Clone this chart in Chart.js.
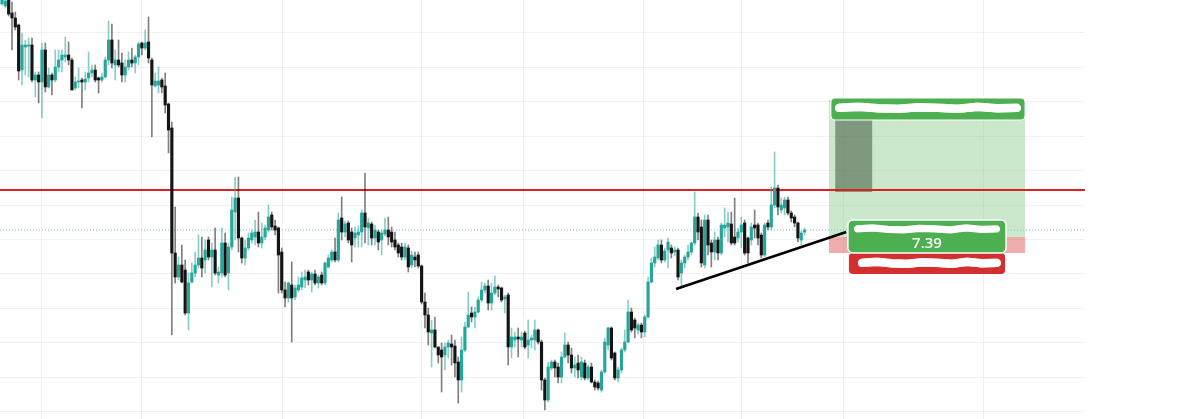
<!DOCTYPE html>
<html>
<head>
<meta charset="utf-8">
<script src="https://cdn.jsdelivr.net/npm/chart.js@4.4.1/dist/chart.umd.min.js"></script>
<style>
  html, body { margin: 0; padding: 0; background: #fff; }
  #wrap { width: 1200px; height: 419px; position: relative; }
</style>
</head>
<body>
<div id="wrap"><canvas id="chart"></canvas></div>
<script>
// candles (one per bar, left to right)
const opens = [
  41.5,41.3,41.9,40.6,40.1,39.4,34.9,37.2,37.3,37.4,
  33.9,34.4,33.7,36.9,33.2,34.4,33.9,35.2,35.9,36.2,
  36.4,35.9,33.1,33.7,33.9,33.7,34.1,34.6,34.9,34.1,
  33.9,34.2,35.9,37.9,35.4,35.9,35.6,34.4,35.2,35.9,
  35.6,36.2,37.6,37.1,37.7,35.9,33.3,33.4,33.9,33.3,
  31.5,29.1,16.6,14.2,15.4,14.9,10.6,13.7,14.6,15.4,
  16.1,15.9,17.9,16.2,16.9,14.4,14.6,17.6,14.6,17.2,
  20.7,22.1,18.1,16.1,17.1,17.9,18.2,18.7,17.6,18.2,
  18.9,20.4,19.3,19.1,16.7,12.9,12.1,13.4,12.2,12.9,
  13.2,13.9,14.7,13.9,14.5,13.6,14.4,13.6,15.2,15.9,
  16.7,15.9,20.1,18.7,19.6,18.7,18.1,18.4,18.7,20.6,
  19.1,19.5,18.1,18.7,17.9,18.5,18.9,18.7,17.9,17.4,
  17.2,16.2,17.1,15.4,16.2,16.4,15.3,11.7,10.4,8.6,
  8.9,7.2,6.9,6.4,7.2,7.5,7.3,5.7,3.9,6.9,
  9.2,10.6,10.2,10.7,11.9,12.9,13.3,11.6,12.6,13.2,
  13.1,12.0,12.4,7.2,7.9,8.2,7.9,8.6,7.4,7.9,
  7.9,8.9,7.7,3.9,1.9,5.1,5.7,5.2,4.2,6.2,
  7.4,6.4,5.1,5.6,4.2,5.6,4.1,5.2,3.7,3.6,
  2.9,4.7,7.4,9.1,6.6,4.1,4.9,6.9,7.7,10.7,
  9.9,8.9,9.4,8.7,10.2,13.7,15.6,16.1,17.4,15.9,
  16.9,17.1,16.7,16.9,14.6,15.6,16.2,16.7,17.6,20.2,
  19.2,15.4,19.9,17.6,16.7,17.9,16.6,19.1,19.2,19.5,
  18.2,18.1,18.7,19.6,18.1,17.9,19.4,19.4,18.4,16.4,
  19.6,19.2,21.4,23.1,20.9,21.1,21.9,20.6,20.2,19.6,
  17.9,18.7
];
const highs = [
  42.4,42.2,42.1,41.7,40.7,39.5,38.6,37.9,38.1,38.1,
  34.7,34.7,37.6,37.6,35.1,34.6,36.9,36.9,36.9,38.2,
  37.7,36.1,34.2,35.1,34.1,34.7,36.7,35.4,35.4,34.2,
  34.6,36.2,39.8,39.5,36.9,37.9,36.6,35.9,36.7,37.1,
  36.4,37.7,37.7,38.9,40.2,36.1,34.6,35.2,34.1,34.6,
  31.6,29.7,21.2,16.2,17.4,15.9,14.6,15.6,16.7,18.4,
  18.2,17.9,18.2,17.6,19.1,15.2,19.1,18.6,17.6,22.2,
  24.2,24.2,18.2,17.9,18.6,18.9,19.9,20.7,19.6,19.4,
  21.4,20.7,19.9,19.2,17.1,13.7,13.7,15.7,13.4,14.2,
  14.7,14.9,14.9,14.7,14.9,14.4,14.7,15.7,16.4,16.9,
  18.1,20.6,22.2,19.8,19.8,19.1,19.2,19.3,20.9,24.6,
  20.1,19.7,19.4,18.9,18.9,20.1,20.2,19.2,18.7,17.6,
  17.6,17.6,17.4,16.8,16.7,16.7,15.4,12.6,11.1,9.9,
  10.2,7.2,7.6,7.6,7.9,8.4,7.9,6.2,8.2,9.7,
  12.7,11.2,11.2,12.2,13.7,13.6,13.9,13.6,14.3,13.4,
  13.2,12.4,12.6,9.1,8.7,9.1,8.7,8.8,9.9,8.4,
  9.9,9.0,7.9,4.1,5.7,5.9,5.9,5.6,6.7,8.6,
  7.7,7.1,6.2,6.4,6.2,5.9,5.4,5.6,3.9,3.8,
  4.9,8.1,9.2,9.2,6.7,5.2,7.1,8.9,11.9,11.1,
  10.1,9.6,9.6,10.4,14.2,16.1,17.2,17.9,17.9,17.1,
  18.1,17.4,17.2,17.1,15.9,16.4,17.4,17.7,22.7,20.6,
  19.9,20.4,20.4,17.9,18.7,18.2,19.6,21.1,20.7,20.7,
  22.1,19.1,20.2,19.9,18.2,19.6,20.9,19.6,18.6,19.6,
  19.9,23.2,26.7,23.4,22.1,22.2,22.2,20.8,20.4,19.7,
  18.8,19.1
];
const lows = [
  41.4,41.1,40.3,36.9,38.9,33.9,33.4,34.4,34.2,33.7,
  32.2,31.6,30.1,32.7,33.1,32.4,33.7,34.7,34.7,35.7,
  35.4,32.9,32.9,33.1,31.1,32.9,33.7,34.2,33.7,32.6,
  33.7,34.1,35.4,35.1,33.9,35.2,33.7,33.7,34.9,35.2,
  34.6,35.4,36.4,36.9,35.6,28.2,33.2,32.6,32.6,30.6,
  26.6,8.4,13.6,13.9,13.6,10.4,8.9,13.6,14.2,15.1,
  14.2,14.6,15.9,13.2,14.4,13.6,14.2,14.2,12.9,16.9,
  17.9,16.7,15.6,15.4,16.9,17.6,17.4,17.2,17.1,17.9,
  18.7,18.9,18.4,12.6,12.6,11.2,11.7,7.7,11.9,12.7,
  12.9,13.1,13.4,12.7,13.4,13.1,13.4,13.4,15.1,15.7,
  15.7,15.7,17.9,18.2,17.6,15.7,17.2,17.2,17.2,17.6,
  17.4,17.4,17.4,16.9,16.4,18.3,17.4,17.2,16.9,16.2,
  15.9,15.9,14.7,15.1,15.2,15.1,11.5,9.1,7.4,5.2,
  7.1,5.6,2.7,4.9,6.1,5.4,4.2,1.6,2.7,6.7,
  9.1,9.7,9.1,10.6,11.7,12.6,10.9,10.9,12.4,12.2,
  11.7,10.6,5.4,6.1,7.2,6.2,7.2,7.0,6.1,7.1,
  6.9,7.5,2.9,0.9,1.7,4.9,4.2,3.6,3.6,6.1,
  5.6,4.6,4.2,4.1,3.9,3.9,3.9,3.6,2.9,2.9,
  2.7,4.6,6.9,5.9,3.9,3.7,4.6,6.7,7.6,8.7,
  8.1,8.5,8.1,8.2,10.1,13.6,15.2,15.9,15.6,15.7,
  15.1,16.1,16.3,13.9,13.1,15.1,15.9,16.4,17.4,17.9,
  15.2,15.1,16.4,15.2,15.9,15.9,16.4,18.2,17.7,17.4,
  17.4,17.7,17.1,16.4,15.6,17.4,18.1,17.4,16.1,16.2,
  18.9,18.9,21.1,20.4,20.6,20.4,20.4,19.7,19.2,17.7,
  17.4,18.4
];
const closes = [
  41.9,41.8,40.5,40.1,39.2,34.8,37.4,37.4,37.4,33.9,
  34.4,33.7,36.9,33.2,34.4,33.9,35.2,35.9,36.4,36.4,
  35.9,32.9,33.7,33.8,33.7,34.0,34.6,34.9,33.9,33.9,
  34.2,35.9,37.9,35.6,35.9,35.4,34.4,35.2,35.9,35.6,
  36.2,37.5,37.1,37.6,36.1,33.4,33.8,33.8,33.2,31.4,
  28.9,16.6,14.2,15.4,13.7,10.6,13.6,14.6,15.4,16.1,
  15.1,16.9,16.2,16.9,14.6,14.7,17.6,14.4,17.2,20.9,
  22.1,18.1,16.1,17.1,18.1,18.6,18.7,17.6,18.2,19.1,
  20.2,19.2,18.9,16.4,12.9,12.1,13.6,12.1,13.1,13.4,
  14.1,14.2,13.9,14.5,13.6,14.2,13.6,15.6,16.1,16.7,
  15.9,19.9,18.7,19.5,17.9,17.4,18.6,18.7,20.6,19.2,
  19.6,18.1,18.9,17.7,18.6,18.9,18.2,17.7,17.2,16.6,
  16.2,17.2,15.2,16.4,15.9,15.3,11.7,10.4,8.7,8.9,
  7.2,6.4,6.2,7.2,7.6,7.2,5.6,3.9,6.9,9.2,
  10.4,10.2,10.7,11.9,12.9,13.3,11.6,12.6,13.2,13.0,
  11.9,12.2,7.2,8.2,8.2,8.0,8.2,7.2,7.9,8.1,
  8.9,7.7,3.9,1.9,5.2,5.7,5.1,4.2,6.2,7.4,
  6.4,5.1,5.4,4.9,5.7,4.1,5.2,3.7,3.2,3.1,
  4.7,7.7,9.1,6.1,4.1,4.9,6.9,7.7,10.7,8.9,
  9.1,9.4,8.7,10.2,13.7,15.6,16.2,17.4,15.9,16.8,
  17.7,16.6,16.9,14.2,15.6,16.2,16.7,17.6,20.2,18.7,
  15.6,19.9,17.4,16.7,17.9,16.6,19.4,19.4,19.6,17.6,
  17.6,18.7,19.4,16.6,16.6,19.2,19.1,18.1,16.4,19.4,
  19.2,21.4,23.1,21.2,21.4,21.9,20.6,20.1,19.6,18.1,
  18.6,18.9
];

// grid positions (bar index / price)
const xGridTicks = [12.0, 42.0, 84.1, 126.1, 156.5, 192.5, 222.2, 252.6, 294.6];
const yGridTicks = [0.76, 4.2, 7.64, 11.08, 14.52, 17.96, 21.4, 24.84, 28.28, 31.72, 35.16, 38.6];

// drawings
const resistance = 22.9;
const lastPrice = 18.9;
const trendX = [202.4, 253.5];
const trendY = [13.0, 18.7];
const zoneX = [248.3, 307.2];
const targetPrice = 31.9;
const entryPrice = 18.2;
const stopPrice = 16.6;
const heldX = [250.2, 261.3];
const heldY = [30.1, 22.7];
const ratioText = "7.39";

const UP = '#26a69a', DOWN = '#141414';
const idx = opens.map((_, i) => i);
const isUp = i => closes[i] >= opens[i];

// white marker strokes that hide the label text
function scribble(ctx, x0, x1, yc, w) {
  const wob = [0, -1, 0.5, 1, -0.5, 0, 1, -1, 0.5, 0];
  const pass = (dy, lw) => {
    ctx.beginPath();
    wob.forEach((d, k) => {
      const px = x0 + (x1 - x0) * k / (wob.length - 1);
      if (k === 0) ctx.moveTo(px, yc + d + dy); else ctx.lineTo(px, yc + d + dy);
    });
    ctx.lineWidth = lw;
    ctx.stroke();
  };
  ctx.strokeStyle = '#fff';
  ctx.lineCap = 'round';
  ctx.lineJoin = 'round';
  pass(0, w);
  pass(-2, w * 0.6);
  pass(2, w * 0.5);
}

const tradeBox = {
  id: 'tradeBox',
  beforeDatasetsDraw(chart) {
    const { ctx, scales: { x, y } } = chart;
    const l = x.getPixelForValue(zoneX[0]), r = x.getPixelForValue(zoneX[1]);
    const t = y.getPixelForValue(targetPrice), e = y.getPixelForValue(entryPrice), s = y.getPixelForValue(stopPrice);
    ctx.save();
    ctx.fillStyle = 'rgba(76,175,80,0.29)';
    ctx.fillRect(l, t, r - l, e - t);
    ctx.fillStyle = 'rgba(220,60,60,0.42)';
    ctx.fillRect(l, e, r - l, s - e);
    // bars held in trade
    const hl = x.getPixelForValue(heldX[0]), hr = x.getPixelForValue(heldX[1]);
    const ht = y.getPixelForValue(heldY[0]), hb = y.getPixelForValue(heldY[1]);
    ctx.fillStyle = 'rgba(80,105,80,0.62)';
    ctx.fillRect(hl, ht, hr - hl, hb - ht);
    ctx.restore();
  },
  afterDatasetsDraw(chart) {
    const { ctx, scales: { x, y } } = chart;
    const l = x.getPixelForValue(zoneX[0]), r = x.getPixelForValue(zoneX[1]);
    const t = y.getPixelForValue(targetPrice), e = y.getPixelForValue(entryPrice), s = y.getPixelForValue(stopPrice);
    ctx.save();
    // target label
    ctx.beginPath();
    ctx.roundRect(l + 2, t - 2, r - l - 2, 22, 4);
    ctx.fillStyle = '#4caf50';
    ctx.fill();
    ctx.strokeStyle = '#fff';
    ctx.lineWidth = 1;
    ctx.stroke();
    scribble(ctx, l + 10, r - 8, t + 8, 8);
    // stop label
    ctx.beginPath();
    ctx.roundRect(l + 20, s, r - l - 40, 21, 4);
    ctx.fillStyle = '#d32f2f';
    ctx.fill();
    scribble(ctx, l + 33, r - 28, s + 10, 8);
    // entry label
    ctx.beginPath();
    ctx.roundRect(l + 19, e - 17, r - l - 38, s - e + 17, 5);
    ctx.fillStyle = '#4caf50';
    ctx.fill();
    ctx.strokeStyle = '#fff';
    ctx.lineWidth = 1.5;
    ctx.stroke();
    scribble(ctx, l + 28, r - 28, e - 8, 6);
    ctx.fillStyle = '#fff';
    ctx.font = '600 15px "Open Sans"';
    ctx.textAlign = 'center';
    ctx.textBaseline = 'middle';
    ctx.fillText(ratioText, (l + r) / 2, s - 9);
    ctx.restore();
  }
};

new Chart(document.getElementById('chart'), {
  type: 'bar',
  data: {
    datasets: [
      {
        type: 'line',
        data: trendX.map((v, k) => ({ x: v, y: trendY[k] })),
        borderColor: '#000',
        borderWidth: 2.5,
        pointRadius: 0,
        order: 0
      },
      {
        data: idx.map(i => ({ x: i, y: [opens[i], closes[i]] })),
        backgroundColor: c => isUp(c.dataIndex) ? UP : DOWN,
        barThickness: 2.5,
        minBarLength: 1,
        grouped: false,
        order: 1
      },
      {
        data: idx.map(i => ({ x: i, y: [lows[i], highs[i]] })),
        backgroundColor: c => isUp(c.dataIndex) ? 'rgba(38,166,154,0.55)' : 'rgba(0,0,0,0.5)',
        barThickness: 1,
        grouped: false,
        order: 2
      },
      {
        type: 'line',
        data: [{ x: -0.6, y: resistance }, { x: 325.2, y: resistance }],
        borderColor: '#dd2020',
        borderWidth: 2,
        pointRadius: 0,
        order: 3
      },
      {
        type: 'line',
        data: [{ x: -0.6, y: lastPrice }, { x: 325.2, y: lastPrice }],
        borderColor: '#7fcdc4',
        borderWidth: 1,
        borderDash: [1, 2],
        pointRadius: 0,
        order: 4
      }
    ]
  },
  options: {
    responsive: true,
    maintainAspectRatio: false,
    animation: false,
    layout: { padding: { left: 0, right: 115, top: 0, bottom: 0 } },
    plugins: { legend: { display: false }, tooltip: { enabled: false } },
    scales: {
      x: {
        type: 'linear',
        min: -0.6,
        max: 325.2,
        offset: false,
        afterBuildTicks: a => { a.ticks = xGridTicks.map(v => ({ value: v })); },
        ticks: { display: false },
        grid: { color: 'rgba(0,0,0,0.055)', drawTicks: false, offset: false },
        border: { display: false }
      },
      y: {
        type: 'linear',
        min: 0,
        max: 41.9,
        afterBuildTicks: a => { a.ticks = yGridTicks.map(v => ({ value: v })); },
        ticks: { display: false },
        grid: { color: 'rgba(0,0,0,0.055)', drawTicks: false },
        border: { display: false }
      }
    }
  },
  plugins: [tradeBox]
});
</script>
</body>
</html>
